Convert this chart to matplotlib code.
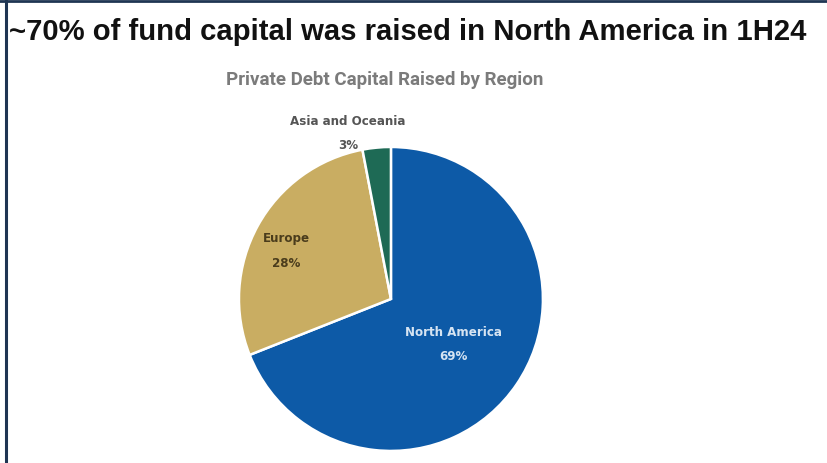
import matplotlib.pyplot as plt
from matplotlib.lines import Line2D

# Private debt capital raised by region, 1H24 (%)
regions = ["North America", "Europe", "Asia and Oceania"]
shares = [69, 28, 3]
colors = ["#0d5aa7", "#c9ad62", "#1e6a55"]
label_colors = ["#d6e4f2", "#4a3c1c", "#555555"]

fig = plt.figure(figsize=(8.28, 4.63), dpi=100)
fig.patch.set_facecolor("white")

# frame lines on top and left edge
fig.add_artist(Line2D([0.007, 0.007], [0, 1], color="#1f3553", lw=2.2))
fig.add_artist(Line2D([0, 1], [0.998, 0.998], color="#1f3553", lw=2.0))

fig.text(0.011, 0.93, "~70% of fund capital was raised in North America in 1H24",
         fontsize=21.1, fontweight="bold", family="Liberation Sans",
         color="#111111", va="center", ha="left")
fig.text(0.465, 0.828, "Private Debt Capital Raised by Region",
         fontsize=13.5, fontweight="bold", family="Roboto",
         color="#7b7b7b", va="center", ha="center")

ax = fig.add_axes([0.2886, 0.026, 0.3671, 0.6566])
wedges, _ = ax.pie(shares, colors=colors, startangle=90, counterclock=False,
                   wedgeprops=dict(edgecolor="white", linewidth=1.8))
ax.set_xlim(-1, 1)
ax.set_ylim(-1, 1)
ax.set_aspect("equal")

label_pos = [(0.414, -0.30), (-0.69, 0.316), (-0.283, 1.089)]
for name, val, c, (x, y) in zip(regions, shares, label_colors, label_pos):
    ax.text(x, y, f"{name}\n{val}%", ha="center", va="center",
            fontsize=8.6, fontweight="bold", family="DejaVu Sans",
            color=c, linespacing=2.15)

plt.savefig("out.png", dpi=100)
